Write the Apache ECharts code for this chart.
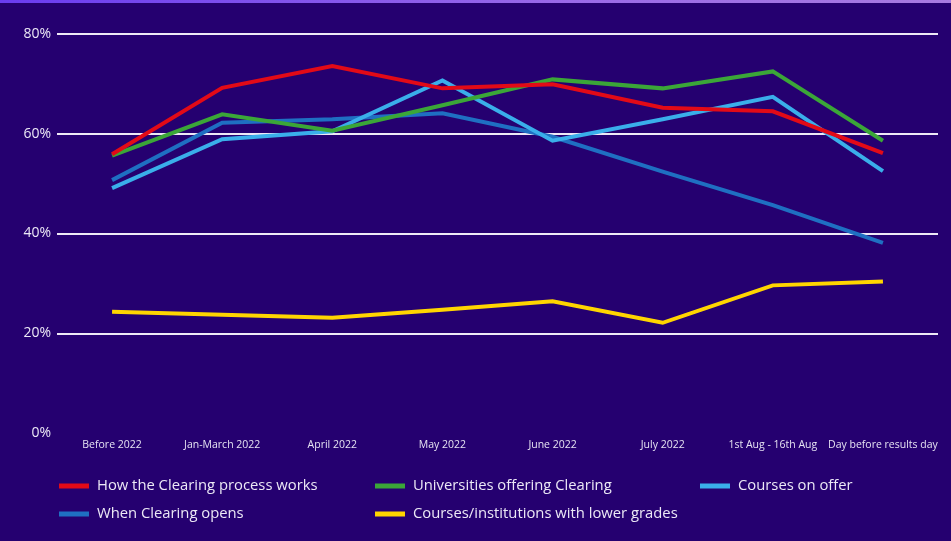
<!DOCTYPE html>
<html>
<head>
<meta charset="utf-8">
<script src="https://cdn.jsdelivr.net/npm/echarts@6/dist/echarts.min.js"></script>
<style>
html,body{margin:0;padding:0;background:#250070;}
#wrap{position:relative;width:951px;height:541px;background:#250070;box-sizing:border-box;border-bottom:1px solid #5b4a9c;border-right:1px solid #4a3a8c;}
#topbar{position:absolute;left:0;top:0;width:951px;height:3px;background:linear-gradient(90deg,#6a3cf0,#9a6ae8 60%,#a77ae0);}
#chart{position:absolute;left:0;top:0;width:951px;height:541px;}
</style>
</head>
<body>
<div id="wrap"><div id="chart"></div><div id="topbar"></div></div>
<script>
const categories = ['Before 2022','Jan-March 2022','April 2022','May 2022','June 2022','July 2022','1st Aug - 16th Aug','Day before results day'];
const yTicks = [0,20,40,60,80];
const howClearingWorks = [55.9, 69.2, 73.6, 69.1, 69.9, 65.2, 64.5, 56.1];
const universitiesOffering = [55.6, 63.9, 60.6, 65.7, 70.9, 69.1, 72.5, 58.6];
const coursesOnOffer = [49.1, 58.9, 60.5, 70.7, 58.6, 62.9, 67.4, 52.5];
const whenClearingOpens = [50.7, 62.2, 62.9, 64.1, 59.4, 52.4, 45.7, 38.1];
const lowerGrades = [24.3, 23.7, 23.1, 24.7, 26.4, 22.1, 29.6, 30.4];

const chart = echarts.init(document.getElementById('chart'), null, {renderer:'canvas'});
const font = '"Open Sans", sans-serif';
const mk = (name, data, color) => ({
  name, type:'line', data, symbol:'none', smooth:false,
  lineStyle:{color, width:4, cap:'butt', join:'miter'},
  itemStyle:{color}
});
const legendBase = {
  orient:'vertical', itemWidth:30, itemHeight:5, itemGap:12, icon:'rect',
  textStyle:{color:'#ece8f6', fontSize:14.8, fontFamily:font, lineHeight:16, padding:[0,0,0,3]},
  top:478, padding:0
};
chart.setOption({
  backgroundColor:'#250070',
  animation:false,
  grid:{left:57, right:13, top:34, bottom:108, containLabel:false},
  xAxis:{
    type:'category', data:categories, boundaryGap:true,
    axisLine:{show:false}, axisTick:{show:false},
    axisLabel:{color:'#e6e2f2', fontSize:10.5, fontFamily:font, margin:7, interval:0}
  },
  yAxis:{
    type:'value', min:0, max:80, interval:20,
    axisLine:{show:false}, axisTick:{show:false},
    axisLabel:{color:'#ece8f6', fontSize:14, fontFamily:font, margin:6, formatter:v=>v+'%'},
    splitLine:{show:true, lineStyle:{color:['rgba(0,0,0,0)','#eee8f6','#eee8f6','#eee8f6','#eee8f6'], width:2}}
  },
  legend:[
    Object.assign({}, legendBase, {left:59, data:['How the Clearing process works','When Clearing opens']}),
    Object.assign({}, legendBase, {left:375, data:['Universities offering Clearing','Courses/institutions with lower grades']}),
    Object.assign({}, legendBase, {left:700, data:['Courses on offer']})
  ],
  series:[
    mk('Courses/institutions with lower grades', lowerGrades, '#ffd500'),
    mk('When Clearing opens', whenClearingOpens, '#1f6fc2'),
    mk('Courses on offer', coursesOnOffer, '#3aaeea'),
    mk('Universities offering Clearing', universitiesOffering, '#3ba638'),
    mk('How the Clearing process works', howClearingWorks, '#e20a17')
  ]
});
</script>
</body>
</html>
